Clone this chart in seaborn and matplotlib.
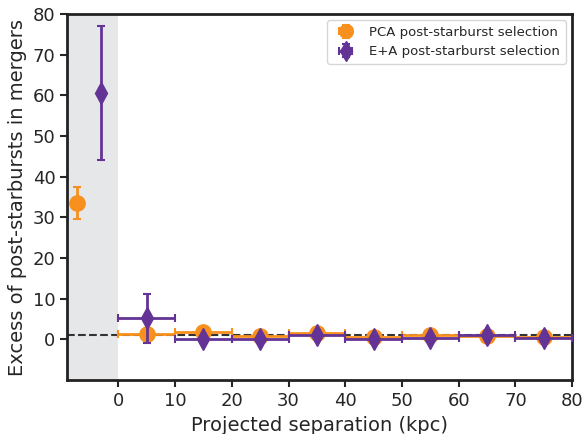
import numpy as np
import matplotlib
matplotlib.use('Agg')
import matplotlib.pyplot as plt
import seaborn as sns

# 数据
sep = [5, 15, 25, 35, 45, 55, 65, 75]
sep_err = [5, 5, 5, 5, 5, 5, 5, 5]

pca_y = [1.3, 1.9, 0.8, 1.5, 0.7, 1.2, 0.8, 0.7]
pca_yerr = [0.4, 0.5, 0.3, 0.4, 0.3, 0.3, 0.3, 0.3]
pca_close_x = -7.2
pca_close_y = 33.5
pca_close_err = 4.0

ea_y = [5.2, 0.1, 0.1, 1.2, 0.1, 0.4, 1.2, 0.3]
ea_yerr = [6.0, 0.5, 0.5, 0.6, 0.5, 0.5, 0.6, 0.5]
ea_close_x = -3.0
ea_close_y = 60.5
ea_close_err = 16.5

baseline = 1.0

orange = '#F7901E'
purple = '#633496'

sns.set_style('ticks')
plt.rcParams['font.family'] = ['DejaVu Sans']

fig, ax = plt.subplots(figsize=(5.85, 4.34), dpi=100)
fig.subplots_adjust(left=0.115, right=0.978, top=0.968, bottom=0.124)

ax.axvspan(-9, 0, color='#e6e7e9', zorder=0, lw=0)
ax.axhline(baseline, color='#333333', ls='--', lw=1.5, zorder=1)

ax.errorbar(sep, pca_y, xerr=sep_err, yerr=pca_yerr, fmt='o', color=orange,
            ms=11, capsize=3, elinewidth=2, capthick=1.5, zorder=2,
            label='PCA post-starburst selection')
ax.errorbar([pca_close_x], [pca_close_y], yerr=[pca_close_err], fmt='o', color=orange,
            ms=11, capsize=3, elinewidth=2, capthick=1.5, zorder=2)

ax.errorbar(sep, ea_y, xerr=sep_err, yerr=ea_yerr, fmt='d', color=purple,
            ms=11, capsize=3, elinewidth=2, capthick=1.5, zorder=3,
            label='E+A post-starburst selection')
ax.errorbar([ea_close_x], [ea_close_y], yerr=[ea_close_err], fmt='d', color=purple,
            ms=11, capsize=3, elinewidth=2, capthick=1.5, zorder=3)

ax.set_xlim(-9, 80)
ax.set_ylim(-10, 80)
ax.set_xticks(np.arange(0, 81, 10))
ax.set_yticks(np.arange(0, 81, 10))
ax.tick_params(labelsize=13, width=1.5, length=5)
for s in ax.spines.values():
    s.set_linewidth(2)
    s.set_color('#222222')

ax.set_xlabel('Projected separation (kpc)', fontsize=14)
ax.set_ylabel('Excess of post-starbursts in mergers', fontsize=14)
ax.legend(loc='upper right', fontsize=9.5, markerscale=0.9)

plt.savefig('out.png')
